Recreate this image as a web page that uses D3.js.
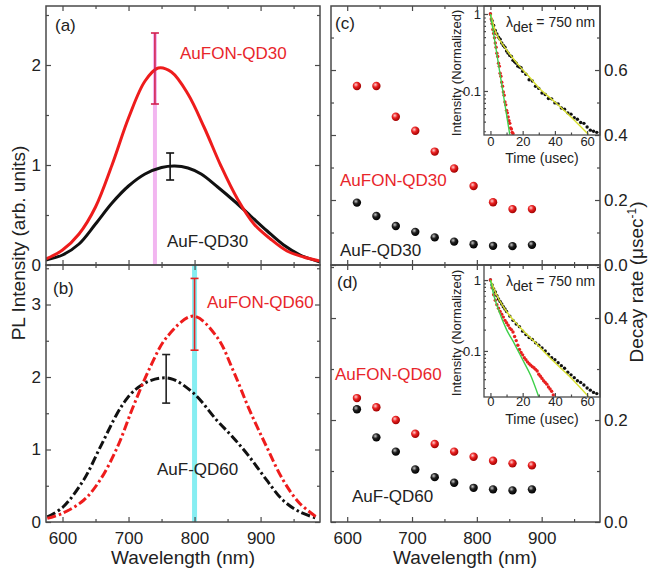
<!DOCTYPE html>
<html>
<head>
<meta charset="utf-8">
<style>
  body { margin: 0; background: #fff; }
  svg { font-family: "Liberation Sans", Arial, sans-serif; }
</style>
<script src="https://cdn.jsdelivr.net/npm/d3@7"></script>
</head>
<body>
<svg id="chart" width="650" height="573"></svg>
<script>
// ---- PL spectra (nm, arb. units) ----
const wlFonQD30 = [575, 600, 625, 650, 675, 700, 725, 745, 765, 790, 815, 840, 865, 890, 915, 940, 965, 990];
const plFonQD30 = [0.06, 0.15, 0.31, 0.58, 1.0, 1.47, 1.84, 1.97, 1.93, 1.71, 1.37, 0.99, 0.66, 0.41, 0.26, 0.14, 0.08, 0.04];
const wlFQD30 = [575, 600, 625, 650, 675, 700, 725, 750, 770, 790, 810, 835, 860, 885, 910, 935, 960, 990];
const plFQD30 = [0.05, 0.1, 0.21, 0.41, 0.62, 0.79, 0.91, 0.975, 0.99, 0.97, 0.91, 0.78, 0.64, 0.49, 0.34, 0.2, 0.1, 0.03];
const wlFonQD60 = [577, 600, 632, 657, 683, 707, 733, 758, 798, 834, 858, 883, 909, 934, 959, 986];
const plFonQD60 = [0.05, 0.12, 0.30, 0.58, 1.03, 1.59, 2.14, 2.55, 2.84, 2.55, 2.10, 1.55, 1.04, 0.58, 0.26, 0.06];
const wlFQD60 = [577, 600, 632, 657, 683, 695, 707, 733, 763, 798, 834, 858, 883, 909, 934, 959, 986];
const plFQD60 = [0.07, 0.20, 0.58, 1.03, 1.50, 1.67, 1.80, 1.95, 1.98, 1.78, 1.40, 1.17, 0.90, 0.58, 0.30, 0.14, 0.05];

// error bars: [wavelength, low, high, colour]
const errA = [[740, 1.61, 2.32, "#d22050"], [763, 0.85, 1.12, "#111"]];
const errB = [[800, 2.37, 3.36, "#e42424"], [757, 1.64, 2.31, "#222"]];

// ---- decay rates (usec^-1) ----
const decayWl = [615, 645, 675, 705, 735, 765, 795, 825, 855, 885];
const rateFonQD30 = [0.551, 0.551, 0.456, 0.413, 0.349, 0.297, 0.243, 0.193, 0.172, 0.172];
const rateFQD30 = [0.192, 0.151, 0.120, 0.102, 0.085, 0.072, 0.064, 0.059, 0.058, 0.062];
const rateFonQD60 = [0.243, 0.225, 0.200, 0.173, 0.153, 0.138, 0.128, 0.120, 0.115, 0.111];
const rateFQD60 = [0.221, 0.166, 0.138, 0.103, 0.088, 0.077, 0.067, 0.064, 0.062, 0.064];

// ---- inset decays (usec, normalized) ----
const tC_fon = [0, 0.5, 1, 1.5, 2, 2.5, 3, 3.5, 4, 4.5, 5, 5.5, 6, 6.5, 7, 7.5, 8, 8.5, 9, 9.5, 10, 10.5, 11, 11.5, 12, 12.5, 13, 13.5, 14];
const iC_fon = [1.0, 0.86, 0.75, 0.63, 0.56, 0.49, 0.42, 0.37, 0.31, 0.28, 0.23, 0.21, 0.17, 0.155, 0.13, 0.115, 0.097, 0.088, 0.072, 0.066, 0.056, 0.052, 0.046, 0.041, 0.038, 0.033, 0.032, 0.029, 0.028];
const tC_f = [0, 1, 2, 3, 4, 5, 6, 7, 8, 9, 10, 11, 12, 13, 14, 15, 16, 17, 18, 19, 20, 22, 24, 26, 28, 30, 32, 34, 36, 38, 40, 42, 44, 46, 48, 50, 52, 54, 56, 58, 60, 62, 64, 66];
const iC_f = [1.0, 0.82, 0.71, 0.61, 0.55, 0.5, 0.47, 0.42, 0.39, 0.37, 0.33, 0.31, 0.29, 0.28, 0.25, 0.24, 0.23, 0.21, 0.205, 0.2, 0.18, 0.165, 0.14, 0.135, 0.115, 0.108, 0.094, 0.09, 0.08, 0.079, 0.07, 0.068, 0.06, 0.058, 0.052, 0.05, 0.045, 0.043, 0.039, 0.038, 0.034, 0.031, 0.03, 0.029];
const fitC_fon_t = [0, 12];
const fitC_fon_i = [1, 0.027];
const fitC_f_t = [0, 3, 8, 12, 18, 25, 30, 40, 50, 61];
const fitC_f_i = [1, 0.6, 0.39, 0.3, 0.21, 0.145, 0.11, 0.072, 0.046, 0.027];

const tD_fon = [0, 1, 2, 3, 4, 5, 6, 7, 8, 9, 10, 11, 12, 13, 14, 15, 16, 17, 18, 19, 20, 21, 22, 23, 24, 25, 26, 27, 28, 29, 30, 31, 32, 33, 34, 35, 36, 37, 38, 39];
const iD_fon = [1, 0.78, 0.62, 0.52, 0.45, 0.4, 0.36, 0.33, 0.3, 0.27, 0.25, 0.23, 0.21, 0.2, 0.185, 0.16, 0.14, 0.12, 0.105, 0.095, 0.088, 0.08, 0.075, 0.07, 0.066, 0.063, 0.06, 0.058, 0.055, 0.052, 0.047, 0.044, 0.041, 0.038, 0.036, 0.034, 0.031, 0.029, 0.027, 0.024];
const tD_f = [0, 1, 2, 3, 4, 5, 6, 7, 8, 9, 10, 12, 14, 16, 18, 20, 22, 24, 26, 28, 30, 32, 34, 36, 38, 40, 42, 44, 46, 48, 50, 52, 54, 56, 58, 60, 62, 64, 66];
const iD_f = [1, 0.85, 0.75, 0.68, 0.6, 0.54, 0.5, 0.46, 0.42, 0.39, 0.36, 0.31, 0.27, 0.24, 0.22, 0.19, 0.17, 0.155, 0.145, 0.13, 0.12, 0.11, 0.1, 0.09, 0.08, 0.075, 0.068, 0.062, 0.057, 0.05, 0.046, 0.042, 0.038, 0.036, 0.033, 0.03, 0.028, 0.026, 0.025];
const fitD_fon_t = [0, 2, 5, 10, 15, 20, 25, 30];
const fitD_fon_i = [1, 0.62, 0.38, 0.2, 0.125, 0.075, 0.045, 0.0225];
const fitD_f_t = [0, 3, 10, 18, 28, 39, 49, 61];
const fitD_f_i = [1, 0.68, 0.36, 0.22, 0.13, 0.072, 0.044, 0.0225];

const RED = "#ee1c1c", TXTRED = "#e8262a", FRAME = "#4a4a4a";

const svg = d3.select("#chart");
const defs = svg.append("defs");

function sphereGrad(id, hi, mid, lo) {
  const g = defs.append("radialGradient").attr("id", id)
    .attr("cx", "38%").attr("cy", "35%").attr("r", "65%");
  g.append("stop").attr("offset", "0%").attr("stop-color", hi);
  g.append("stop").attr("offset", "45%").attr("stop-color", mid);
  g.append("stop").attr("offset", "100%").attr("stop-color", lo);
}
sphereGrad("sRed", "#ffd0d0", "#ea2222", "#a00000");
sphereGrad("sBlack", "#c8c8c8", "#202020", "#000");

// scales
const xL = d3.scaleLinear().domain([575, 990]).range([46, 320]);
const xR = d3.scaleLinear().domain([575, 990]).range([331, 600]);
const yA = d3.scaleLinear().domain([0, 2.59]).range([265, 6]);
const yB = d3.scaleLinear().domain([0, 3.545]).range([522, 265]);
const yC = d3.scaleLinear().domain([0, 0.797]).range([265, 6]);
const yD = d3.scaleLinear().domain([0, 0.504]).range([522, 265]);

function clip(id, x0, y0, x1, y1) {
  defs.append("clipPath").attr("id", id).append("rect")
    .attr("x", x0).attr("y", y0).attr("width", x1 - x0).attr("height", y1 - y0);
}
clip("cA", 46, 6, 320, 265);
clip("cB", 46, 265, 320, 522);

function styleAxis(g, size) {
  g.select(".domain").remove();
  g.selectAll("line").attr("stroke", FRAME).attr("stroke-width", 1.2);
  g.selectAll("text").attr("font-size", size).attr("fill", "#222")
    .attr("font-family", '"Liberation Sans", Arial, sans-serif');
}

// inward ticks around a panel box
function ticks(x, y, xMaj, xMin, yMaj, yMin, opts) {
  const [x0, x1] = x.range(), [y1, y0] = y.range();
  const add = (axis, tr) => {
    const g = svg.append("g").attr("transform", tr).call(axis);
    styleAxis(g, 17);
    return g;
  };
  add(d3.axisBottom(x).tickValues(xMaj).tickSize(-5).tickPadding(10)
    .tickFormat(opts.xLabels ? d3.format("d") : ""), `translate(0,${y1})`);
  add(d3.axisBottom(x).tickValues(xMin).tickSize(-3).tickFormat(""), `translate(0,${y1})`);
  add(d3.axisTop(x).tickValues(xMaj).tickSize(-5).tickFormat(""), `translate(0,${y0})`);
  add(d3.axisTop(x).tickValues(xMin).tickSize(-3).tickFormat(""), `translate(0,${y0})`);
  add(d3.axisLeft(y).tickValues(yMaj).tickSize(-5).tickPadding(5)
    .tickFormat(opts.leftFmt || ""), `translate(${x0},0)`);
  add(d3.axisLeft(y).tickValues(yMin).tickSize(-3).tickFormat(""), `translate(${x0},0)`);
  add(d3.axisRight(y).tickValues(yMaj).tickSize(-5).tickPadding(4)
    .tickFormat(opts.rightFmt || ""), `translate(${x1},0)`);
  add(d3.axisRight(y).tickValues(yMin).tickSize(-3).tickFormat(""), `translate(${x1},0)`);
  svg.append("rect").attr("x", x0).attr("y", y0).attr("width", x1 - x0).attr("height", y1 - y0)
    .attr("fill", "none").attr("stroke", FRAME).attr("stroke-width", 1.5);
}

function label(x, y, txt, color, size) {
  svg.append("text").attr("x", x).attr("y", y).attr("font-size", size || 17)
    .attr("fill", color || "#222").text(txt);
}

function curve(x, y, xs, ys, color, clipId, dash) {
  const line = d3.line().x(d => x(d[0])).y(d => y(d[1])).curve(d3.curveCatmullRom.alpha(0.5));
  svg.append("path").attr("clip-path", `url(#${clipId})`)
    .attr("d", line(d3.zip(xs, ys)))
    .attr("fill", "none").attr("stroke", color).attr("stroke-width", 3)
    .attr("stroke-dasharray", dash || null);
}

function errBars(x, y, data) {
  data.forEach(([w, lo, hi, c]) => {
    const g = svg.append("g").attr("stroke", c).attr("stroke-width", 1.6);
    g.append("line").attr("x1", x(w)).attr("x2", x(w)).attr("y1", y(lo)).attr("y2", y(hi));
    [lo, hi].forEach(v => g.append("line").attr("x1", x(w) - 4).attr("x2", x(w) + 4)
      .attr("y1", y(v)).attr("y2", y(v)));
  });
}

// ---- panel (a) ----
svg.append("rect").attr("x", xL(740) - 2).attr("width", 4)
  .attr("y", yA(2.32)).attr("height", yA(0) - yA(2.32)).attr("fill", "#f2b6f0");
curve(xL, yA, wlFQD30, plFQD30, "#111", "cA");
curve(xL, yA, wlFonQD30, plFonQD30, RED, "cA");
errBars(xL, yA, errA);

// ---- panel (b) ----
svg.append("rect").attr("x", xL(800) - 2.5).attr("width", 5)
  .attr("y", 265).attr("height", 257).attr("fill", "#86eef2");
curve(xL, yB, wlFQD60, plFQD60, "#111", "cB", "9,3,2.5,3");
curve(xL, yB, wlFonQD60, plFonQD60, RED, "cB", "9,3,2.5,3");
errBars(xL, yB, errB);

ticks(xL, yA, [600, 700, 800, 900], [650, 750, 850, 950], [0, 1, 2], [0.5, 1.5, 2.5], { leftFmt: d3.format("d") });
ticks(xL, yB, [600, 700, 800, 900], [650, 750, 850, 950], [0, 1, 2, 3], [0.5, 1.5, 2.5, 3.5], { leftFmt: d3.format("d"), xLabels: true });

label(55, 31, "(a)");
label(180, 59, "AuFON-QD30", TXTRED);
label(167, 247, "AuF-QD30");
label(53, 294, "(b)");
label(207, 308, "AuFON-QD60", TXTRED);
label(157, 475, "AuF-QD60");

// ---- panels (c), (d) points ----
function spheres(x, y, xs, ys, grad) {
  svg.append("g").selectAll("circle").data(d3.zip(xs, ys)).join("circle")
    .attr("cx", d => x(d[0])).attr("cy", d => y(d[1])).attr("r", 4.2)
    .attr("fill", `url(#${grad})`);
}
spheres(xR, yC, decayWl, rateFonQD30, "sRed");
spheres(xR, yC, decayWl, rateFQD30, "sBlack");
spheres(xR, yD, decayWl, rateFonQD60, "sRed");
spheres(xR, yD, decayWl, rateFQD60, "sBlack");

label(335, 29, "(c)");
label(340, 186, "AuFON-QD30", TXTRED);
label(340, 256, "AuF-QD30");
label(337, 288, "(d)");
label(335, 380, "AuFON-QD60", TXTRED);
label(352, 502, "AuF-QD60");

// ---- insets ----
function inset(yTop, yBot, iDomain, sets, id, titleY, timeY, lamY, xPad) {
  const t = d3.scaleLinear().domain([-4, 68]).range([484, 600]);
  const iy = d3.scaleLog().domain(iDomain).range([yBot, yTop]);
  clip(id, 484, yTop, 600, yBot);
  svg.append("rect").attr("x", 484).attr("y", yTop).attr("width", 116).attr("height", yBot - yTop)
    .attr("fill", "#fff");
  const g = svg.append("g").attr("clip-path", `url(#${id})`);
  sets.forEach(s => {
    if (s.type === "dots") {
      g.append("g").selectAll("circle").data(d3.zip(s.t, s.i)).join("circle")
        .attr("cx", d => t(d[0])).attr("cy", d => iy(d[1])).attr("r", 1.7).attr("fill", s.color);
    } else {
      g.append("path").attr("d", d3.line().x(d => t(d[0])).y(d => iy(d[1])).curve(d3.curveMonotoneX)(d3.zip(s.t, s.i)))
        .attr("fill", "none").attr("stroke", s.color).attr("stroke-width", 1.4);
    }
  });
  const add = (axis, tr) => {
    const a = svg.append("g").attr("transform", tr).call(axis);
    styleAxis(a, 13);
    return a;
  };
  add(d3.axisBottom(t).tickValues([0, 20, 40, 60]).tickSize(-4).tickPadding(xPad), `translate(0,${yBot})`);
  add(d3.axisBottom(t).tickValues([10, 30, 50]).tickSize(-2.5).tickFormat(""), `translate(0,${yBot})`);
  add(d3.axisTop(t).tickValues([0, 20, 40, 60]).tickSize(-4).tickFormat(""), `translate(0,${yTop})`);
  const majI = [0.1, 1];
  const minI = [0.03, 0.04, 0.05, 0.06, 0.07, 0.08, 0.09, 0.2, 0.3, 0.4, 0.5, 0.6, 0.7, 0.8, 0.9]
    .filter(v => v >= iDomain[0]);
  add(d3.axisLeft(iy).tickValues(majI).tickSize(-4).tickPadding(3).tickFormat(d => d === 1 ? "1" : "0.1"),
    `translate(484,0)`);
  add(d3.axisLeft(iy).tickValues(minI).tickSize(-2).tickFormat(""), `translate(484,0)`);
  svg.append("rect").attr("x", 484).attr("y", yTop).attr("width", 116).attr("height", yBot - yTop)
    .attr("fill", "none").attr("stroke", FRAME).attr("stroke-width", 1.3);
  svg.append("text").attr("transform", `translate(461,${titleY}) rotate(-90)`)
    .attr("text-anchor", "middle").attr("font-size", 13).attr("fill", "#222")
    .text("Intensity (Normalized)");
  svg.append("text").attr("x", 542).attr("y", timeY).attr("text-anchor", "middle")
    .attr("font-size", 14).attr("fill", "#222").text("Time (usec)");
  const lt = svg.append("text").attr("x", 506).attr("y", lamY).attr("font-size", 14).attr("fill", "#222");
  lt.append("tspan").text("λ");
  lt.append("tspan").attr("dy", 5).text("det");
  lt.append("tspan").attr("dy", -5).text(" = 750 nm");
}

inset(6, 135, [0.0268, 1.27], [
  { type: "dots", t: tC_f, i: iC_f, color: "#111" },
  { type: "dots", t: tC_fon, i: iC_fon, color: "#e82020" },
  { type: "line", t: fitC_f_t, i: fitC_f_i, color: "#d8e030" },
  { type: "line", t: fitC_fon_t, i: fitC_fon_i, color: "#3ed04a" }
], "cIC", 73, 163, 27, 2);

inset(265, 397, [0.0224, 1.63], [
  { type: "dots", t: tD_f, i: iD_f, color: "#111" },
  { type: "dots", t: tD_fon, i: iD_fon, color: "#e82020" },
  { type: "line", t: fitD_f_t, i: fitD_f_i, color: "#d8e030" },
  { type: "line", t: fitD_fon_t, i: fitD_fon_i, color: "#3ed04a" }
], "cID", 333, 424, 286, 0);

const f1 = d3.format(".1f");
ticks(xR, yC, [600, 700, 800, 900], [650, 750, 850, 950], [0, 0.2, 0.4, 0.6], [0.1, 0.3, 0.5, 0.7], { rightFmt: f1 });
ticks(xR, yD, [600, 700, 800, 900], [650, 750, 850, 950], [0, 0.2, 0.4], [0.1, 0.3, 0.5], { rightFmt: f1, xLabels: true });

// ---- axis titles ----
svg.append("text").attr("transform", "translate(25,243) rotate(-90)").attr("text-anchor", "middle")
  .attr("font-size", 19).attr("fill", "#222").text("PL Intensity (arb. units)");
const rt = svg.append("text").attr("transform", "translate(643,282) rotate(-90)").attr("text-anchor", "middle")
  .attr("font-size", 19).attr("fill", "#222");
rt.append("tspan").text("Decay rate (μsec");
rt.append("tspan").attr("dy", -7).attr("font-size", 12).text("-1");
rt.append("tspan").attr("dy", 7).text(")");
svg.append("text").attr("x", 183).attr("y", 564).attr("text-anchor", "middle")
  .attr("font-size", 19).attr("fill", "#222").text("Wavelength (nm)");
svg.append("text").attr("x", 465).attr("y", 564).attr("text-anchor", "middle")
  .attr("font-size", 19).attr("fill", "#222").text("Wavelength (nm)");
</script>
</body>
</html>
